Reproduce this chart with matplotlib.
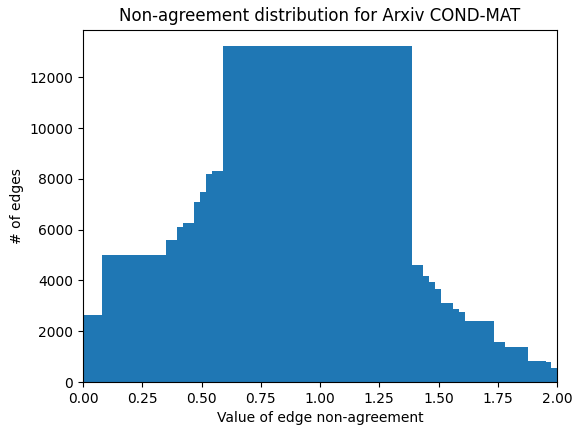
import numpy as np
import matplotlib
matplotlib.use("Agg")
import matplotlib.pyplot as plt

# bin edges and counts
edges = [0.0, 0.079, 0.350, 0.397, 0.423, 0.469, 0.493, 0.518, 0.544, 0.590,
         1.388, 1.436, 1.461, 1.486, 1.511, 1.562, 1.586, 1.612, 1.733, 1.781,
         1.877, 1.952, 1.976, 2.0]
counts = [2620, 5020, 5600, 6120, 6250, 7100, 7480, 8180, 8310, 13220,
          4620, 4170, 3930, 3650, 3125, 2890, 2745, 2400, 1570, 1385,
          825, 775, 550]

fig = plt.figure(figsize=(5.73, 4.28), dpi=100)
ax = fig.add_axes([83/573, 1-382/428, (557-83)/573, (382-29.5)/428])
ax.hist(edges[:-1], bins=edges, weights=counts, color="#1f77b4")
ax.set_xlim(0, 2.0)
ax.set_title("Non-agreement distribution for Arxiv COND-MAT")
ax.set_xlabel("Value of edge non-agreement")
ax.set_ylabel("# of edges")
fig.savefig("out.png", dpi=100)
